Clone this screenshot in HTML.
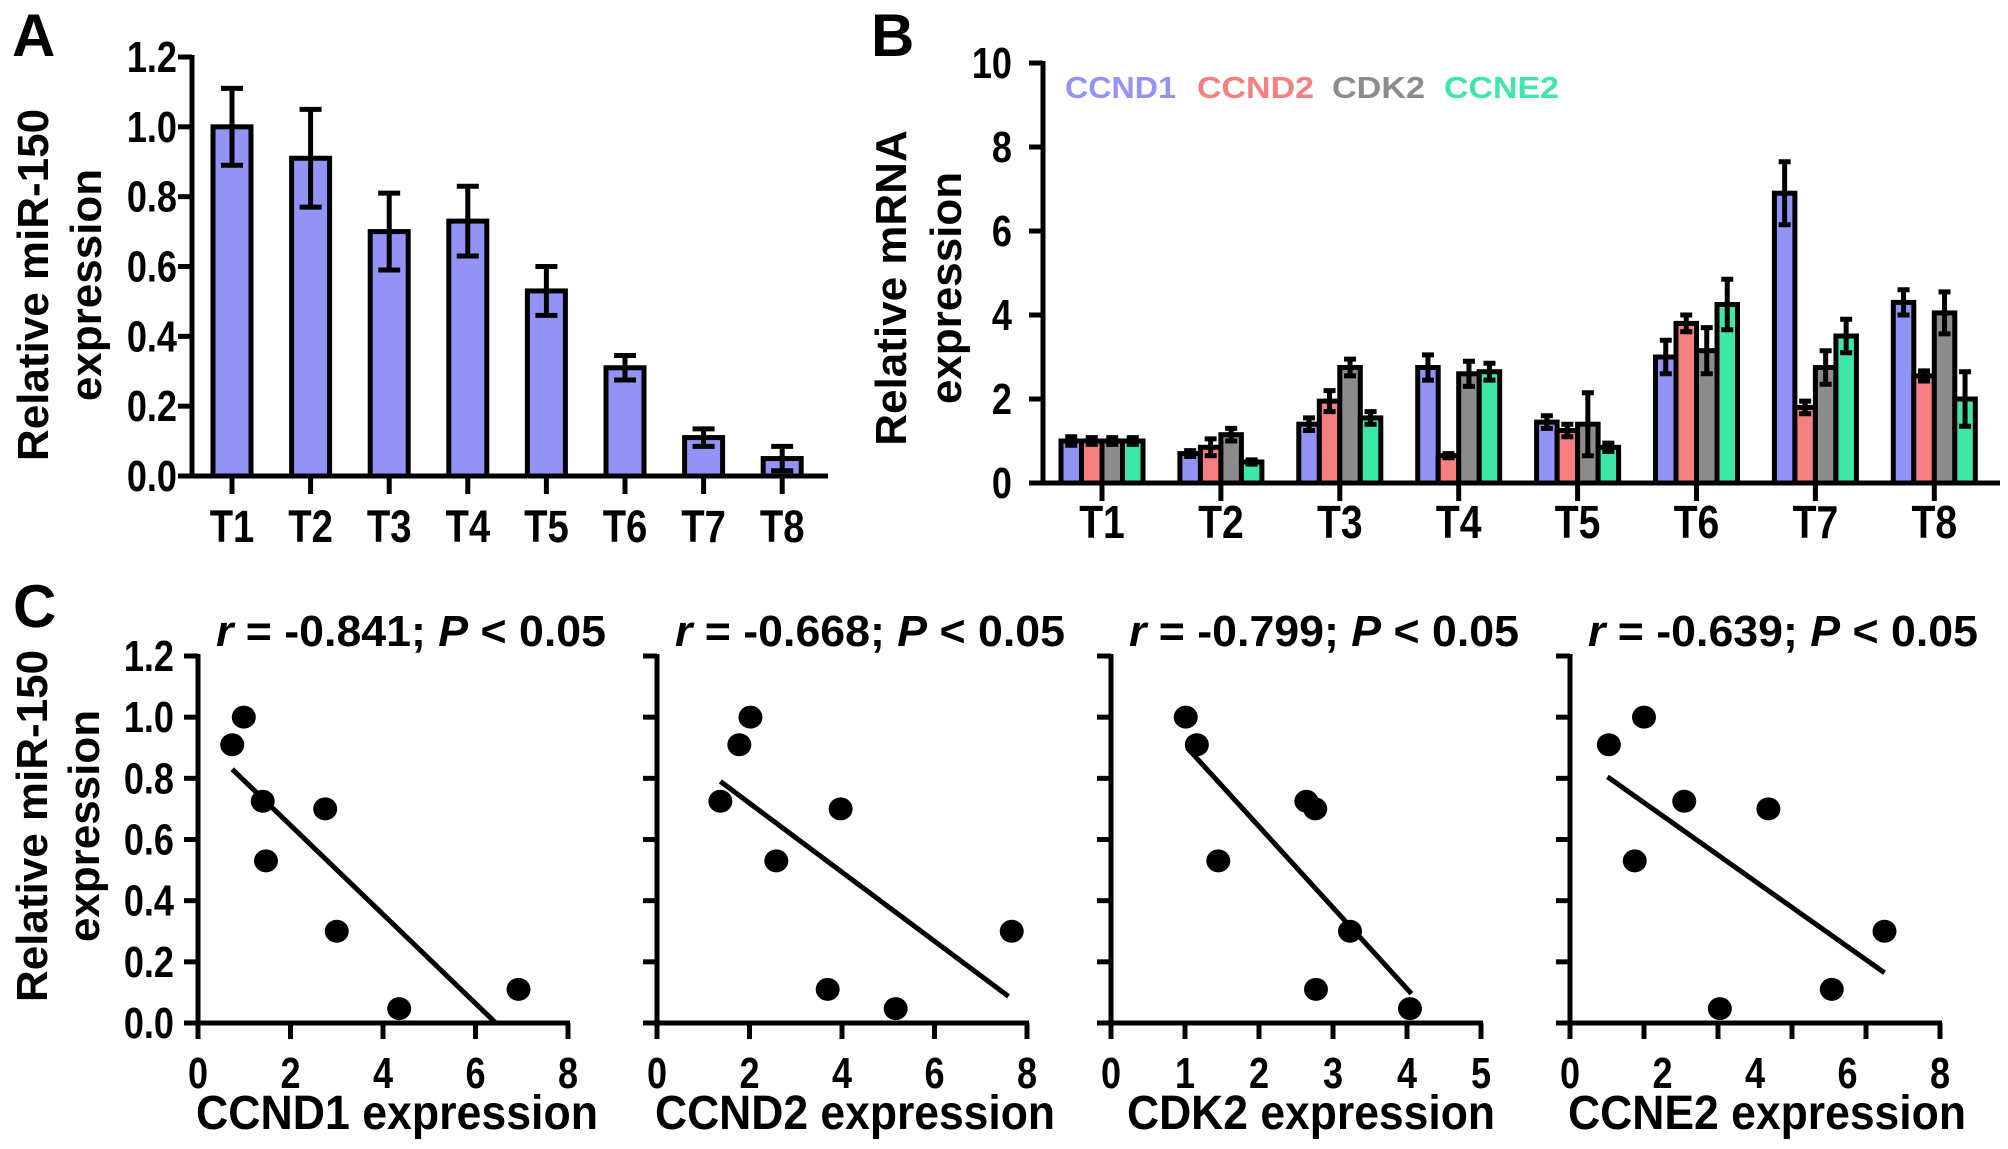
<!DOCTYPE html>
<html><head><meta charset="utf-8"><style>
html,body{margin:0;padding:0;background:#fff;}
svg{display:block;}
text{font-family:"Liberation Sans",Arial,sans-serif;font-weight:bold;}
</style></head>
<body>
<svg id="fig" width="2008" height="1149" viewBox="0 0 2008 1149" xmlns="http://www.w3.org/2000/svg">
<g id="pA"></g>
<g id="pB"></g>
<g id="pC"></g>
</svg>
<script>
// ---------- data ----------
const samples = ["T1","T2","T3","T4","T5","T6","T7","T8"];
const mirMean = [1.0,0.91,0.70,0.73,0.53,0.31,0.11,0.05];
const mirErr  = [0.11,0.14,0.11,0.10,0.07,0.035,0.025,0.035];
const yTicksA = [0,0.2,0.4,0.6,0.8,1.0,1.2];
const yTickLabelsA = ["0.0","0.2","0.4","0.6","0.8","1.0","1.2"];

const genes = ["CCND1","CCND2","CDK2","CCNE2"];
const geneColors = ["#9393f7","#f67f7f","#8c8c8c","#3fe7a6"];
const ccnd1Mean = [1.0,0.7,1.4,2.75,1.45,3.0,6.9,4.3];
const ccnd1Err  = [0.1,0.07,0.15,0.3,0.15,0.4,0.75,0.3];
const ccnd2Mean = [1.0,0.85,1.95,0.65,1.25,3.8,1.8,2.55];
const ccnd2Err  = [0.08,0.2,0.25,0.05,0.15,0.2,0.15,0.12];
const cdk2Mean  = [1.0,1.15,2.75,2.6,1.4,3.15,2.75,4.05];
const cdk2Err   = [0.08,0.15,0.2,0.3,0.75,0.55,0.4,0.5];
const ccne2Mean = [1.0,0.5,1.55,2.65,0.85,4.25,3.5,2.0];
const ccne2Err  = [0.08,0.05,0.15,0.2,0.1,0.6,0.4,0.65];
const yTicksB = [0,2,4,6,8,10];

const scatterTitles = ["r = -0.841; P < 0.05","r = -0.668; P < 0.05","r = -0.799; P < 0.05","r = -0.639; P < 0.05"];
const scatterXTitles = ["CCND1 expression","CCND2 expression","CDK2 expression","CCNE2 expression"];
const scatterXMax = [8,8,5,8];
const scatterXLabels = [[0,2,4,6,8],[0,2,4,6,8],[0,1,2,3,4,5],[0,2,4,6,8]];
const scatterXTicks = [[0,2,4,6,8],[0,2,4,6,8],[0,1,2,3,4,5],[0,1.6,3.2,4.8,6.4,8]];
const s1x = [0.99,0.74,1.4,2.75,1.47,3.0,6.93,4.35];
const s2x = [2.02,1.78,1.37,3.97,2.58,7.67,3.69,5.16];
const s3x = [1.01,1.16,2.64,2.76,1.45,3.23,2.77,4.04];
const s4x = [1.6,0.84,2.47,4.29,1.40,6.8,5.66,3.24];
const scatterY = [1.0,0.91,0.725,0.70,0.53,0.30,0.11,0.047];
const fitX0 = [0.74,1.37,1.03,0.81];
const fitY0 = [0.83,0.79,0.90,0.805];
const fitX1 = [6.44,7.6,4.06,6.8];
const fitY1 = [0.0,0.087,0.096,0.164];
const yTicksC = [0,0.2,0.4,0.6,0.8,1.0,1.2];
const yTickLabelsC = ["0.0","0.2","0.4","0.6","0.8","1.0","1.2"];

// ---------- helpers ----------
const NS="http://www.w3.org/2000/svg";
function mk(parent,tag,attrs){const e=document.createElementNS(NS,tag);for(const k in attrs)e.setAttribute(k,attrs[k]);parent.appendChild(e);return e;}
function txt(parent,x,y,s,size,anchor,fill,sx,rot){
  const t=mk(parent,"text",{x:0,y:0,"font-size":size,"text-anchor":anchor||"middle"});
  t.style.fill=fill||"#000";
  t.setAttribute("transform",`translate(${x},${y})`+(rot?` rotate(${rot})`:"")+` scale(${sx||1},1)`);
  t.textContent=s;return t;}
const LW=5;

// ---------- panel A ----------
const A=document.getElementById("pA");
const ax0=192, ay0=476, ay1=57, axEnd=828;
const yA=v=>ay0-(v/1.2)*(ay0-ay1);
const xA=i=>232+i*78.6;
let t=txt(A,12,56,"A",60,"start");


mirMean.forEach((v,i)=>{
  const bw=38;
  const r=mk(A,"rect",{x:xA(i)-bw/2,y:yA(v),width:bw,height:ay0-yA(v),fill:"#9393f7",stroke:"#000","stroke-width":LW});
  
  
  const e=mk(A,"path",{d:`M${xA(i)} ${yA(v+mirErr[i])}V${yA(Math.max(0,v-mirErr[i]))}M${xA(i)-11} ${yA(v+mirErr[i])}h22M${xA(i)-11} ${yA(Math.max(0,v-mirErr[i]))}h22`,stroke:"#000","stroke-width":LW,fill:"none"});
  
  
  mk(A,"line",{x1:xA(i),x2:xA(i),y1:ay0,y2:ay0+18,stroke:"#000","stroke-width":LW});
  t=txt(A,xA(i),542,samples[i],45,"middle",null,0.85);
  
  
});
mk(A,"line",{x1:ax0,x2:ax0,y1:ay1-2,y2:ay0+2,stroke:"#000","stroke-width":LW});
mk(A,"line",{x1:ax0-14,x2:axEnd,y1:ay0,y2:ay0,stroke:"#000","stroke-width":LW});
yTicksA.forEach((v,i)=>{
  mk(A,"line",{x1:ax0-14,x2:ax0,y1:yA(v),y2:yA(v),stroke:"#000","stroke-width":LW});
  t=txt(A,177,yA(v)+15,yTickLabelsA[i],44,"end",null,0.82);
  
  
});
t=txt(A,48,285,"Relative miR-150",44,"middle",null,1,-90);


t=txt(A,101,285,"expression",44,"middle",null,1,-90);



// ---------- panel B ----------
const B=document.getElementById("pB");
const bx0=1043, by0=483, by1=63, bxEnd=2000;
const yB=v=>by0-(v/10)*(by0-by1);
const xB=i=>1102+i*118.9;
t=txt(B,871,56,"B",60,"start");


const bMeans=[ccnd1Mean,ccnd2Mean,cdk2Mean,ccne2Mean];
const bErrs=[ccnd1Err,ccnd2Err,cdk2Err,ccne2Err];
samples.forEach((s,i)=>{
  const bw=20.5;
  for(let g=0;g<4;g++){
    const v=bMeans[g][i], er=bErrs[g][i];
    const x=xB(i)-2*bw+g*bw;
    const r=mk(B,"rect",{x:x,y:yB(v),width:bw,height:by0-yB(v),fill:geneColors[g],stroke:"#000","stroke-width":LW});
    
    
    const cx=x+bw/2;
    const e=mk(B,"path",{d:`M${cx} ${yB(v+er)}V${yB(Math.max(0,v-er))}M${cx-6} ${yB(v+er)}h12M${cx-6} ${yB(Math.max(0,v-er))}h12`,stroke:"#000","stroke-width":LW,fill:"none"});
    
    
  }
  mk(B,"line",{x1:xB(i),x2:xB(i),y1:by0,y2:by0+18,stroke:"#000","stroke-width":LW});
  t=txt(B,xB(i),538,s,46,"middle",null,0.85);
  
  
});
mk(B,"line",{x1:bx0,x2:bx0,y1:by1-2,y2:by0+2,stroke:"#000","stroke-width":LW});
mk(B,"line",{x1:bx0-14,x2:bxEnd,y1:by0,y2:by0,stroke:"#000","stroke-width":LW});
yTicksB.forEach(v=>{
  mk(B,"line",{x1:bx0-14,x2:bx0,y1:yB(v),y2:yB(v),stroke:"#000","stroke-width":LW});
  t=txt(B,1012,yB(v)+15,String(v),44,"end",null,0.82);
  
  
});
const legX=[1065,1197,1332,1444], legW=[111,117,93,115];
genes.forEach((g,i)=>{
  t=mk(B,"text",{x:legX[i],y:98,"font-size":31,"text-anchor":"start",textLength:legW[i],lengthAdjust:"spacingAndGlyphs"});
  t.style.fill=geneColors[i];
  t.textContent=g;
  
  
});
t=txt(B,906,288,"Relative mRNA",44,"middle",null,1,-90);


t=txt(B,961,288,"expression",44,"middle",null,1,-90);



// ---------- panel C ----------
const C=document.getElementById("pC");
t=txt(C,13,627,"C",60,"start");


const cy0=1023, cy1=656, cW=370;
const axesX=[198,657,1111,1570];
const xTitleOff=[-2,-2,16,-2];
const xTitleW=[402,400,368,398];
const yC=v=>cy0-(v/1.2)*(cy0-cy1);
const sxs=[s1x,s2x,s3x,s4x];
for(let p=0;p<4;p++){
  const g=mk(C,"g",{});
  
  
  const x0=axesX[p];
  const xC=v=>x0+(v/scatterXMax[p])*cW;
  mk(g,"line",{x1:x0,x2:x0,y1:cy1-2,y2:cy0+2,stroke:"#000","stroke-width":LW});
  mk(g,"line",{x1:x0-14,x2:x0+cW+2,y1:cy0,y2:cy0,stroke:"#000","stroke-width":LW});
  yTicksC.forEach((v,i)=>{
    mk(g,"line",{x1:x0-14,x2:x0,y1:yC(v),y2:yC(v),stroke:"#000","stroke-width":LW});
    if(p===0){
      t=txt(g,174,yC(v)+15,yTickLabelsC[i],44,"end",null,0.82);
      
      
    }
  });
  scatterXTicks[p].forEach(v=>{
    mk(g,"line",{x1:xC(v),x2:xC(v),y1:cy0,y2:cy0+16,stroke:"#000","stroke-width":LW});
  });
  scatterXLabels[p].forEach(v=>{
    t=txt(g,xC(v),1088,String(v),44,"middle",null,0.82);
    
    
  });
  sxs[p].forEach((xv,i)=>{
    const c=mk(g,"ellipse",{cx:xC(xv),cy:yC(scatterY[i]),rx:12,ry:11.5,fill:"#000"});
    
    
  });
  const l=mk(g,"line",{x1:xC(fitX0[p]),y1:yC(fitY0[p]),x2:xC(fitX1[p]),y2:yC(fitY1[p]),stroke:"#000","stroke-width":LW});
  
  
  t=mk(g,"text",{x:x0+18,y:646,"font-size":44,"text-anchor":"start",textLength:390,lengthAdjust:"spacingAndGlyphs"});
  t.style.fill="#000";
  t.innerHTML='<tspan font-style="italic">r</tspan>'+scatterTitles[p].slice(1,scatterTitles[p].indexOf("P"))+'<tspan font-style="italic">P</tspan>'+scatterTitles[p].slice(scatterTitles[p].indexOf("P")+1);
  
  
  t=mk(g,"text",{x:x0+xTitleOff[p],y:1129,"font-size":48,"text-anchor":"start",textLength:xTitleW[p],lengthAdjust:"spacingAndGlyphs"});
  t.style.fill="#000";
  t.textContent=scatterXTitles[p];
  
  
}
t=txt(C,47,826,"Relative miR-150",44,"middle",null,1,-90);


t=txt(C,99,826,"expression",44,"middle",null,1,-90);


</script>
</body></html>
